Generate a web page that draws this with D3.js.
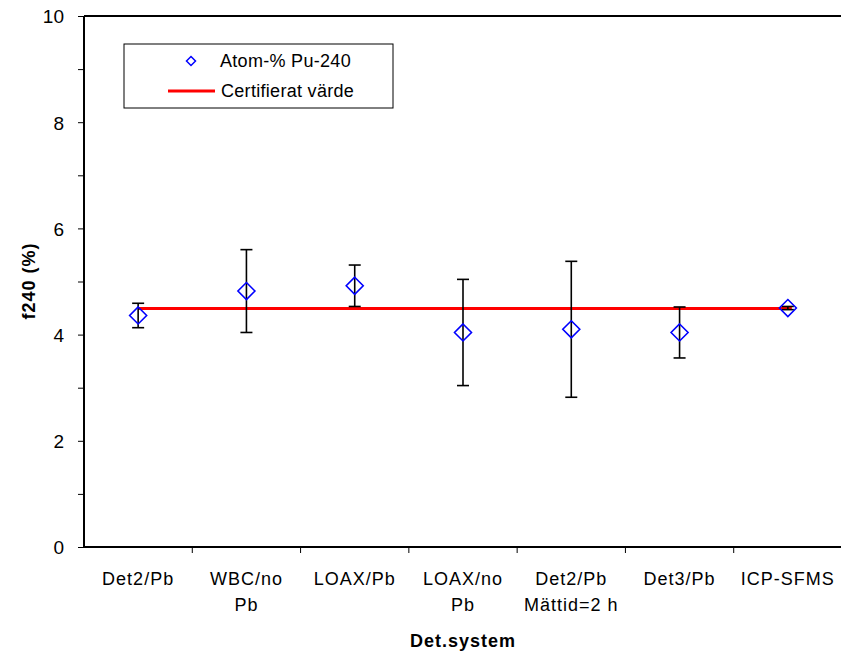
<!DOCTYPE html>
<html><head><meta charset="utf-8">
<script src="https://cdn.jsdelivr.net/npm/d3@7"></script>
<style>
html,body{margin:0;padding:0;background:#fff;overflow:hidden}
text{font-family:"Liberation Sans",Arial,sans-serif;fill:#000}
</style></head>
<body>
<svg id="c" width="841" height="657"></svg>
<script>
const categories = ["Det2/Pb", "WBC/no\nPb", "LOAX/Pb", "LOAX/no\nPb", "Det2/Pb\nMättid=2 h", "Det3/Pb", "ICP-SFMS"];
const values = [4.36, 4.82, 4.92, 4.04, 4.10, 4.04, 4.50];
const errors = [0.23, 0.78, 0.39, 1.00, 1.28, 0.48, 0.03];
const certifiedValue = 4.49;
const yTicks = [0, 2, 4, 6, 8, 10];
const yMinorTicks = [1, 3, 5, 7, 9];
const seriesNames = ["Atom-% Pu-240", "Certifierat värde"];

const svg = d3.select("#c");
const L = 84, R = 842, T = 16, B = 547;
const x = d3.scaleBand().domain(categories).range([L, R]).padding(0);
const y = d3.scaleLinear().domain([0, 10]).range([B, T]);
const cx = c => x(c) + x.bandwidth() / 2;

// top border
svg.append("line").attr("x1", L).attr("x2", R).attr("y1", T).attr("y2", T)
  .attr("stroke", "#000").attr("stroke-width", 2);

// Y axis
const yAxis = svg.append("g").attr("transform", `translate(${L},0)`)
  .call(d3.axisLeft(y).tickValues(yTicks).tickSize(6).tickPadding(14).tickFormat(d3.format("d")));
yAxis.select(".domain").attr("stroke-width", 2).attr("d", `M0,${T}V${B}`);
yAxis.selectAll("text").attr("font-size", 19).attr("dy", "0.36em")
  .style("font-family", "Liberation Sans, Arial, sans-serif");
svg.append("g").attr("transform", `translate(${L},0)`)
  .call(d3.axisLeft(y).tickValues(yMinorTicks).tickSize(6).tickFormat(""))
  .select(".domain").remove();

// X axis
const bounds = categories.slice(1).map(c => x(c));
const xAxisG = svg.append("g");
xAxisG.append("line").attr("x1", L).attr("x2", R).attr("y1", B).attr("y2", B)
  .attr("stroke", "#000").attr("stroke-width", 2);
xAxisG.selectAll(".xt").data(bounds).join("line").attr("class", "xt")
  .attr("x1", d => d).attr("x2", d => d).attr("y1", B).attr("y2", B + 6)
  .attr("stroke", "#000").attr("stroke-width", 1);
const labels = svg.append("g").selectAll("text").data(categories).join("text")
  .attr("x", d => cx(d)).attr("y", 585).attr("text-anchor", "middle")
  .attr("font-size", 18).attr("letter-spacing", 1);
labels.each(function(d) {
  const lines = d.split("\n");
  d3.select(this).selectAll("tspan").data(lines).join("tspan")
    .attr("x", cx(d)).attr("dy", (l, i) => i === 0 ? 0 : 26).text(l => l);
});

// axis titles
svg.append("text").attr("x", 463).attr("y", 647).attr("text-anchor", "middle")
  .attr("font-size", 18).attr("font-weight", "bold").attr("letter-spacing", 1).text("Det.system");
svg.append("text").attr("transform", "translate(35,281) rotate(-90)").attr("text-anchor", "middle")
  .attr("font-size", 18).attr("font-weight", "bold").attr("letter-spacing", 1).text("f240 (%)");

// certified line
svg.append("line")
  .attr("x1", cx(categories[0])).attr("x2", cx(categories[categories.length - 1]) + 4)
  .attr("y1", y(certifiedValue)).attr("y2", y(certifiedValue))
  .attr("stroke", "#ff0000").attr("stroke-width", 3);

// error bars
const eb = svg.append("g").selectAll("g").data(categories).join("g")
  .attr("stroke", "#000").attr("stroke-width", 1.6);
eb.append("line").attr("x1", d => cx(d)).attr("x2", d => cx(d))
  .attr("y1", (d, i) => y(values[i] + errors[i])).attr("y2", (d, i) => y(values[i] - errors[i]));
eb.append("line").attr("x1", d => cx(d) - 6).attr("x2", d => cx(d) + 6)
  .attr("y1", (d, i) => y(values[i] + errors[i])).attr("y2", (d, i) => y(values[i] + errors[i]));
eb.append("line").attr("x1", d => cx(d) - 6).attr("x2", d => cx(d) + 6)
  .attr("y1", (d, i) => y(values[i] - errors[i])).attr("y2", (d, i) => y(values[i] - errors[i]));

// diamonds
const dia = r => `M0,${-r}L${r},0L0,${r}L${-r},0Z`;
svg.append("g").selectAll("path").data(categories).join("path")
  .attr("d", dia(8.5))
  .attr("transform", (d, i) => `translate(${cx(d)},${y(values[i])})`)
  .attr("fill", "none").attr("stroke", "#0000ff").attr("stroke-width", 1.6);

// legend
const lg = svg.append("g");
lg.append("rect").attr("x", 124).attr("y", 44).attr("width", 269).attr("height", 64)
  .attr("fill", "#fff").attr("stroke", "#000").attr("stroke-width", 1);
lg.append("path").attr("d", dia(4.5)).attr("transform", "translate(191,61)")
  .attr("fill", "none").attr("stroke", "#0000ff").attr("stroke-width", 1.5);
lg.append("text").attr("x", 220).attr("y", 67).attr("font-size", 18).attr("letter-spacing", 0.3).text(seriesNames[0]);
lg.append("line").attr("x1", 168).attr("x2", 215).attr("y1", 91).attr("y2", 91)
  .attr("stroke", "#ff0000").attr("stroke-width", 3);
lg.append("text").attr("x", 221).attr("y", 97).attr("font-size", 18).attr("letter-spacing", 0.3).text(seriesNames[1]);
</script>
</body></html>
